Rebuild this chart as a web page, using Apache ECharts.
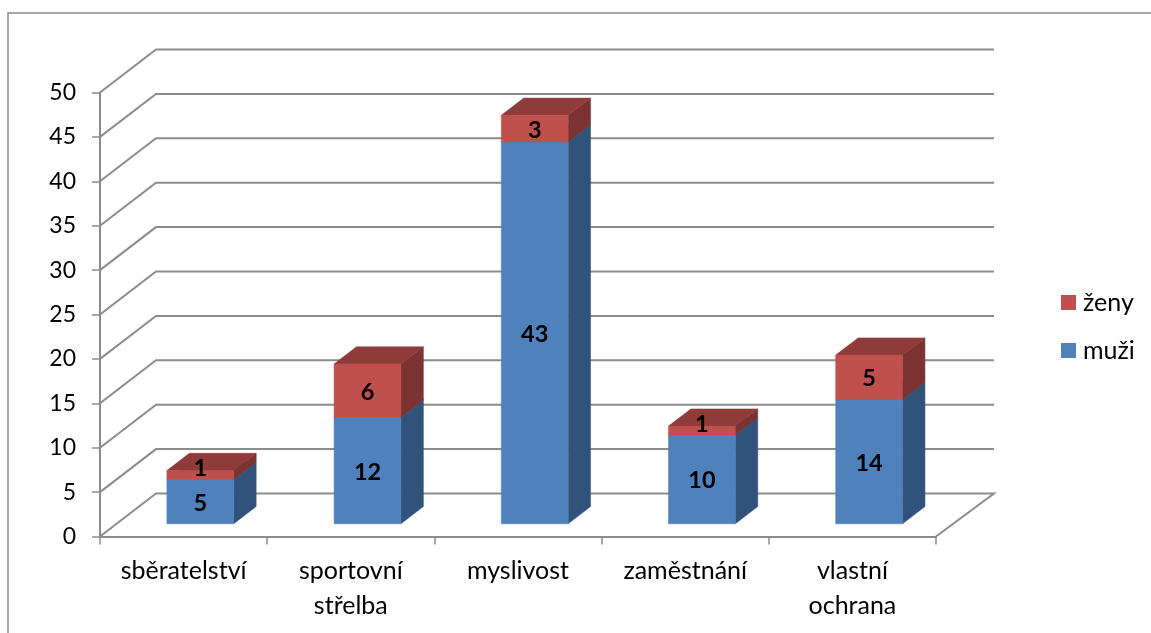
<!DOCTYPE html>
<html><head><meta charset="utf-8">
<style>html,body{margin:0;padding:0;background:#fff}#c{width:1151px;height:633px}</style>
<script src="https://cdn.jsdelivr.net/npm/echarts@6/dist/echarts.min.js"></script>
</head><body><div id="c"></div>
<script>
var categories = ['sběratelství', 'sportovní\nstřelba', 'myslivost', 'zaměstnání', 'vlastní\nochrana'];
var muzi = [5, 12, 43, 10, 14];
var zeny = [1, 6, 3, 1, 5];
var yTicks = [0, 5, 10, 15, 20, 25, 30, 35, 40, 45, 50];

var FONT = 'Lato';
var AXIS = '#8c8c8c';
var DX = 56, DY = -43;
var blue = {front: '#4f81bd', side: '#31527a', top: '#3d6594'};
var red = {front: '#c0504d', side: '#7b3230', top: '#8f3b39'};

var chart = echarts.init(document.getElementById('c'), null, {renderer: 'canvas'});

function wallItem(params, api) {
  var v = api.value(1);
  var band = api.size([1, 0])[0];
  var a = api.coord([0, v]), b = api.coord([categories.length - 1, v]);
  var x0 = a[0] - band / 2, x1 = b[0] + band / 2, y = a[1];
  var pts = [[x0, y], [x0 + DX, y + DY], [x1 + DX + 2, y + DY]];
  if (v === 0) pts.push([x1, y]);
  return {type: 'polyline', shape: {points: pts}, silent: true,
    style: {stroke: AXIS, lineWidth: 2, fill: null}};
}

function poly(points, fill) {
  return {type: 'polygon', shape: {points: points}, style: {fill: fill, stroke: fill, lineWidth: 0.5}};
}

function barItem(colors) {
  return function (params, api) {
    var i = api.value(0), base = api.value(1), top = base + api.value(2);
    var band = api.size([1, 0])[0];
    var p0 = api.coord([i, base]), p1 = api.coord([i, top]);
    var w = band * 0.4, ox = band * 0.1, oy = -12.7, dx = DX * 0.4, dy = DY * 0.4;
    var l = p0[0] - w / 2 + ox, r = l + w, yb = p0[1] + oy, yt = p1[1] + oy;
    var cx = (l + r) / 2, small = api.value(2) <= 1;
    var children = [
      poly([[r, yb], [r + dx, yb + dy], [r + dx, yt + dy], [r, yt]], colors.side),
      poly([[l, yt], [r, yt], [r + dx, yt + dy], [l + dx, yt + dy]], colors.top),
      poly([[l, yb], [r, yb], [r, yt], [l, yt]], colors.front),
      {type: 'text', z2: 10, style: {
        text: String(api.value(2)), x: cx, y: (yb + yt) / 2 + (small ? -6.5 : 1.5),
        align: 'center', verticalAlign: 'middle',
        fill: '#000', font: 'bold 23.5px ' + FONT}}
    ];
    return {type: 'group', children: children};
  };
}

var muziData = muzi.map(function (v, i) { return [i, 0, v]; });
var zenyData = zeny.map(function (v, i) { return [i, muzi[i], v]; });

chart.setOption({
  animation: false,
  backgroundColor: '#fff',
  textStyle: {fontFamily: FONT},
  graphic: [{type: 'rect', silent: true, z: -10,
    shape: {x: 8, y: 13, width: 1300, height: 800},
    style: {fill: null, stroke: '#8a8a8a', lineWidth: 1.5}}],
  grid: {left: 100, top: 92.5, width: 836, height: 444, containLabel: false},
  legend: {
    orient: 'vertical', left: 1056, top: 285, itemWidth: 15, itemHeight: 15, itemGap: 23,
    icon: 'rect', data: ['ženy', 'muži'],
    textStyle: {fontFamily: FONT, fontSize: 25, color: '#000', padding: [0, 0, 0, 2]}
  },
  xAxis: {
    type: 'category', data: categories, boundaryGap: true,
    axisLine: {lineStyle: {color: AXIS, width: 2}},
    axisTick: {show: true, length: 8, alignWithLabel: false, lineStyle: {color: AXIS, width: 1.5}},
    axisLabel: {interval: 0, fontFamily: FONT, fontSize: 25, color: '#000', margin: 17, lineHeight: 35},
    splitLine: {show: false}
  },
  yAxis: {
    type: 'value', min: 0, max: 50, interval: 5,
    axisLine: {show: true, lineStyle: {color: AXIS, width: 2}},
    axisTick: {show: true, length: 8, lineStyle: {color: AXIS, width: 1.5}},
    axisLabel: {fontFamily: FONT, fontSize: 23, color: '#000', margin: 24, padding: [2, 0, 0, 0]},
    splitLine: {show: false}
  },
  series: [
    {type: 'custom', name: 'mřížka', silent: true, clip: false, z: 1,
     data: yTicks.map(function (v) { return [0, v]; }),
     encode: {x: 0, y: 1}, renderItem: wallItem},
    {type: 'custom', name: 'muži', clip: false, z: 3, itemStyle: {color: blue.front},
     data: muziData, encode: {x: 0, y: [1, 2]}, renderItem: barItem(blue)},
    {type: 'custom', name: 'ženy', clip: false, z: 3, itemStyle: {color: red.front},
     data: zenyData, encode: {x: 0, y: [1, 2]}, renderItem: barItem(red)}
  ]
});
</script></body></html>
